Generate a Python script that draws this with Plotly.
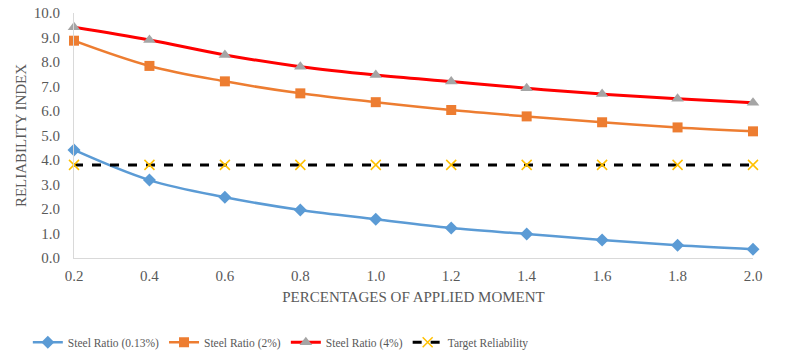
import plotly.graph_objects as go

x_vals = [0.2, 0.4, 0.6, 0.8, 1.0, 1.2, 1.4, 1.6, 1.8, 2.0]
steel_013 = [4.41, 3.18, 2.48, 1.96, 1.58, 1.22, 0.98, 0.73, 0.52, 0.36]
steel_2 = [8.87, 7.84, 7.21, 6.72, 6.36, 6.04, 5.78, 5.54, 5.33, 5.17]
steel_4 = [9.42, 8.90, 8.29, 7.81, 7.47, 7.20, 6.93, 6.69, 6.50, 6.34]
target = [3.8] * 10

font_family = "Liberation Serif, Times New Roman, serif"
grey = "#595959"

fig = go.Figure()
fig.add_trace(go.Scatter(x=x_vals, y=steel_013, name="Steel Ratio (0.13%)", mode="lines+markers",
                         line=dict(color="#5b9bd5", width=2.5, shape="spline"),
                         marker=dict(symbol="diamond", size=10, color="#5b9bd5")))
fig.add_trace(go.Scatter(x=x_vals, y=steel_2, name="Steel Ratio (2%)", mode="lines+markers",
                         line=dict(color="#ed7d31", width=2.5, shape="spline"),
                         marker=dict(symbol="square", size=10, color="#ed7d31")))
fig.add_trace(go.Scatter(x=x_vals, y=steel_4, name="Steel Ratio (4%)", mode="lines+markers",
                         line=dict(color="#ff0000", width=3, shape="spline"),
                         marker=dict(symbol="triangle-up", size=11, color="#a5a5a5")))
fig.add_trace(go.Scatter(x=x_vals, y=target, name="Target Reliability", mode="lines+markers",
                         line=dict(color="#000000", width=3, dash="dash"),
                         marker=dict(symbol="x-thin-open", size=10, color="#ffc000",
                                     line=dict(color="#ffc000", width=1.5))))
fig.update_traces(cliponaxis=False)

fig.update_layout(
    width=800, height=361,
    margin=dict(l=74, r=47, t=13, b=103, autoexpand=False),
    plot_bgcolor="white", paper_bgcolor="white",
    font=dict(family=font_family, color=grey, size=15),
    showlegend=True,
    legend=dict(orientation="h", x=-0.068, xanchor="left", y=-0.285, yanchor="top",
                font=dict(size=11.5, color=grey, family=font_family), itemwidth=30,
                traceorder="normal", tracegroupgap=0),
    xaxis=dict(range=[0.2, 2.0], tickvals=x_vals, ticktext=[f"{v:.1f}" for v in x_vals],
               showgrid=False, zeroline=False, showline=True, linecolor="#d9d9d9", linewidth=1,
               ticks="", ticklabelstandoff=4, automargin=False,
               tickfont=dict(family=font_family, size=15, color=grey),
               title=dict(text="PERCENTAGES OF APPLIED MOMENT", font=dict(size=15, color=grey), standoff=8)),
    yaxis=dict(range=[0, 10], dtick=1, tickformat=".1f", showgrid=False, zeroline=False,
               showline=True, linecolor="#d9d9d9", linewidth=1, ticks="", ticklabelstandoff=10,
               automargin=False,
               tickfont=dict(family=font_family, size=15, color=grey),
               title=dict(text="RELIABILITY INDEX", font=dict(size=15, color=grey), standoff=3)),
)

fig.write_html("out.html", config={"displayModeBar": False},
               post_script="document.body.style.margin='0px';")
